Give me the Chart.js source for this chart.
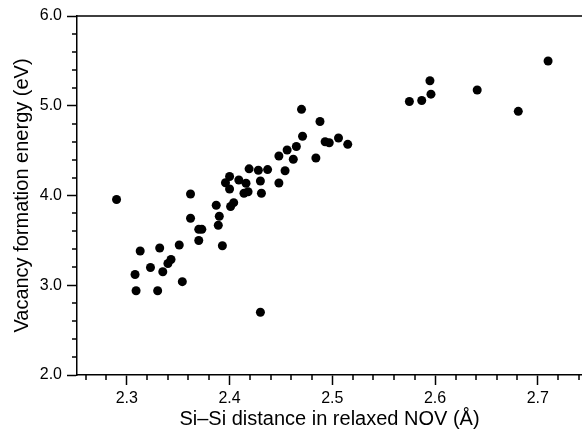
<!DOCTYPE html>
<html>
<head>
<meta charset="utf-8">
<script src="https://cdn.jsdelivr.net/npm/chart.js@4.4.0/dist/chart.umd.min.js"></script>
<style>
  html, body { margin: 0; padding: 0; background: #fff; }
  canvas { display: block; }
</style>
</head>
<body>
<canvas id="chart" width="582" height="431"></canvas>
<script>
// Si-Si distance (Å) and vacancy formation energy (eV)
const distance = [2.290, 2.308, 2.309, 2.313, 2.323, 2.330, 2.332, 2.335, 2.340, 2.343,
                  2.351, 2.354, 2.362, 2.362, 2.370, 2.370, 2.373, 2.387, 2.390, 2.389,
                  2.393, 2.401, 2.404, 2.396, 2.400, 2.400, 2.409, 2.416, 2.414, 2.418,
                  2.419, 2.428, 2.437, 2.430, 2.431, 2.430, 2.448, 2.448, 2.454, 2.456,
                  2.462, 2.465, 2.470, 2.471, 2.484, 2.488, 2.493, 2.497, 2.506, 2.515,
                  2.575, 2.587, 2.596, 2.595, 2.641, 2.681, 2.710];
const energy = [3.955, 3.120, 2.939, 3.382, 3.198, 2.939, 3.415, 3.150, 3.242, 3.287,
                3.448, 3.040, 4.017, 3.746, 3.499, 3.623, 3.623, 3.891, 3.769, 3.668,
                3.440, 3.877, 3.920, 4.142, 4.212, 4.072, 4.173, 4.136, 4.025, 4.042,
                4.297, 4.281, 4.289, 4.162, 4.025, 2.699, 4.440, 4.139, 4.276, 4.507,
                4.404, 4.546, 4.960, 4.660, 4.418, 4.825, 4.599, 4.588, 4.641, 4.570,
                5.047, 5.058, 5.129, 5.279, 5.175, 4.938, 5.499];

const xMin = 2.2515, xMax = 2.743, xStep = 0.1, xMinorStep = 0.02;
const yMin = 2.0, yMax = 6.0, yStep = 1.0, yMinorStep = 0.2;
const xTitle = 'Si\u2013Si distance in relaxed NOV (\u00C5)';
const yTitle = 'Vacancy formation energy (eV)';

const FONT = '"Liberation Sans", Arial, Helvetica, sans-serif';

// minor tick values (skip the ones that sit on a major tick)
const minorValues = (lo, hi, step, major) => {
    const out = [];
    for (let i = Math.ceil(lo / step - 1e-9); i * step <= hi + 1e-9; i++) {
        const v = i * step;
        if (Math.abs(v / major - Math.round(v / major)) > 1e-6) out.push(v);
    }
    return out;
};

const extraTicks = {
    id: 'extraTicks',
    afterDraw(chart) {
        const {ctx, chartArea, scales: {x, y}} = chart;
        ctx.save();
        ctx.strokeStyle = '#000';
        ctx.lineWidth = 1.5;
        ctx.beginPath();
        for (const v of minorValues(xMin, xMax, xMinorStep, xStep)) {
            const px = Math.round(x.getPixelForValue(v));
            ctx.moveTo(px, chartArea.bottom);
            ctx.lineTo(px, chartArea.bottom + 5);
        }
        for (const v of minorValues(yMin, yMax, yMinorStep, yStep)) {
            const py = Math.round(y.getPixelForValue(v));
            ctx.moveTo(chartArea.left, py);
            ctx.lineTo(chartArea.left - 5, py);
        }
        // top frame line
        ctx.moveTo(chartArea.left, chartArea.top);
        ctx.lineTo(chartArea.right, chartArea.top);
        ctx.stroke();
        ctx.restore();
    }
};

new Chart(document.getElementById('chart'), {
    type: 'scatter',
    data: {
        datasets: [{
            data: distance.map((d, i) => ({x: d, y: energy[i]})),
            backgroundColor: '#000',
            borderWidth: 0,
            pointRadius: 4.5
        }]
    },
    options: {
        responsive: false,
        animation: false,
        devicePixelRatio: 1,
        layout: {autoPadding: false, padding: {top: 16, left: 0, right: 0, bottom: 0}},
        plugins: {legend: {display: false}, tooltip: {enabled: false}},
        scales: {
            x: {
                type: 'linear',
                min: xMin,
                max: xMax,
                afterFit: (s) => { s.height = 56; },
                ticks: {
                    stepSize: xStep,
                    includeBounds: false,
                    padding: 4,
                    color: '#000',
                    font: {family: FONT, size: 16},
                    callback: (v) => v.toFixed(1)
                },
                grid: {drawOnChartArea: false, drawTicks: true, tickLength: 10, tickWidth: 1.5, tickColor: '#000'},
                border: {display: true, color: '#000', width: 1.5},
                title: {display: true, text: xTitle, color: '#000', font: {family: FONT, size: 20}, padding: {top: 0, bottom: 0}}
            },
            y: {
                min: yMin,
                max: yMax,
                afterFit: (s) => { s.width = 77; },
                ticks: {
                    stepSize: yStep,
                    padding: 5,
                    color: '#000',
                    font: {family: FONT, size: 16},
                    callback: (v) => v.toFixed(1)
                },
                grid: {drawOnChartArea: false, drawTicks: true, tickLength: 10, tickWidth: 1.5, tickColor: '#000'},
                border: {display: true, color: '#000', width: 1.5},
                title: {display: true, text: yTitle, color: '#000', font: {family: FONT, size: 20}, padding: {top: 10, bottom: 0}}
            }
        }
    },
    plugins: [extraTicks]
});
</script>
</body>
</html>
